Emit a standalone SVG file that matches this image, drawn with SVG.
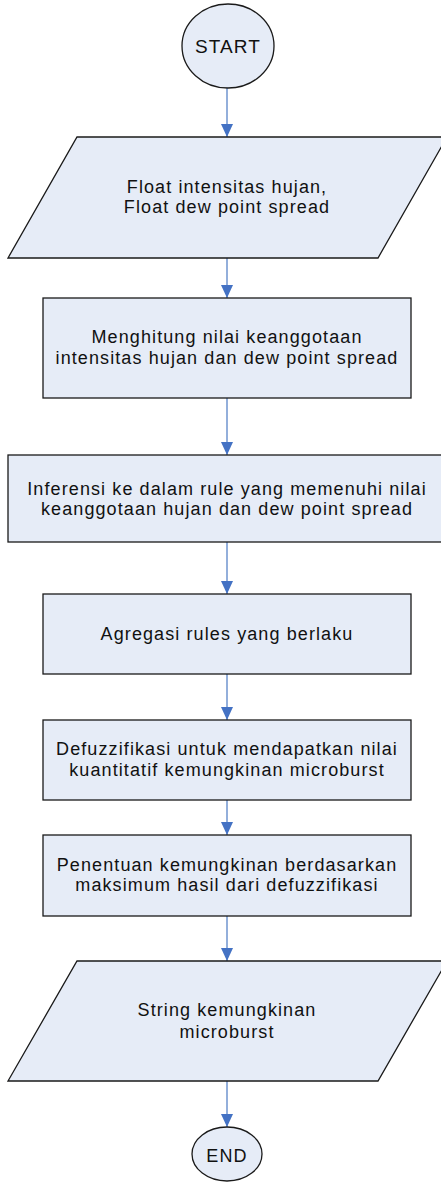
<svg xmlns="http://www.w3.org/2000/svg" width="441" height="1183" viewBox="0 0 441 1183">
<style>
.n{fill:#E6ECF7;stroke:#1a1a1a;stroke-width:1.3}
.t{font-family:"Liberation Sans",Arial,sans-serif;font-size:18px;letter-spacing:1.1px;fill:#111;text-anchor:middle}
.c{stroke:#6F95CF;stroke-width:1.5;fill:none}
</style>
<defs>
<marker id="ah" markerWidth="13" markerHeight="12" refX="13" refY="6" orient="auto" markerUnits="userSpaceOnUse">
<path d="M0,0 L13,6 L0,12 z" fill="#4472C4"/>
</marker>
</defs>
<rect width="441" height="1183" fill="#fff"/>
<g id="connectors">
<line class="c" x1="227" y1="88" x2="227" y2="137" marker-end="url(#ah)"/>
<line class="c" x1="227" y1="258" x2="227" y2="298" marker-end="url(#ah)"/>
<line class="c" x1="227" y1="398" x2="227" y2="455" marker-end="url(#ah)"/>
<line class="c" x1="227" y1="542" x2="227" y2="594" marker-end="url(#ah)"/>
<line class="c" x1="227" y1="674" x2="227" y2="720" marker-end="url(#ah)"/>
<line class="c" x1="227" y1="800" x2="227" y2="835" marker-end="url(#ah)"/>
<line class="c" x1="227" y1="916" x2="227" y2="961" marker-end="url(#ah)"/>
<line class="c" x1="227" y1="1081" x2="227" y2="1127" marker-end="url(#ah)"/>
</g>
<g id="start">
<ellipse class="n" cx="228" cy="46" rx="46" ry="42"/>
<text class="t" x="228" y="53" style="font-size:19px">START</text>
</g>
<g id="input">
<polygon class="n" points="77,137 447,137 378,258 8,258"/>
<text class="t" x="227" y="193">Float intensitas hujan,</text>
<text class="t" x="227" y="213">Float dew point spread</text>
</g>
<g id="step1">
<rect class="n" x="43" y="298" width="368" height="100"/>
<text class="t" x="227" y="343">Menghitung nilai keanggotaan</text>
<text class="t" x="227" y="364">intensitas hujan dan dew point spread</text>
</g>
<g id="step2">
<rect class="n" x="8" y="455" width="438" height="87"/>
<text class="t" x="227" y="495">Inferensi ke dalam rule yang memenuhi nilai</text>
<text class="t" x="227" y="515">keanggotaan hujan dan dew point spread</text>
</g>
<g id="step3">
<rect class="n" x="43" y="594" width="368" height="80"/>
<text class="t" x="227" y="640">Agregasi rules yang berlaku</text>
</g>
<g id="step4">
<rect class="n" x="43" y="720" width="368" height="80"/>
<text class="t" x="227" y="755">Defuzzifikasi untuk mendapatkan nilai</text>
<text class="t" x="227" y="776">kuantitatif kemungkinan microburst</text>
</g>
<g id="step5">
<rect class="n" x="43" y="835" width="368" height="81"/>
<text class="t" x="227" y="871">Penentuan kemungkinan berdasarkan</text>
<text class="t" x="227" y="891">maksimum hasil dari defuzzifikasi</text>
</g>
<g id="output">
<polygon class="n" points="77,961 447,961 378,1081 8,1081"/>
<text class="t" x="227" y="1016">String kemungkinan</text>
<text class="t" x="227" y="1038">microburst</text>
</g>
<g id="end">
<ellipse class="n" cx="227" cy="1154" rx="35" ry="27"/>
<text class="t" x="227" y="1162">END</text>
</g>
</svg>
